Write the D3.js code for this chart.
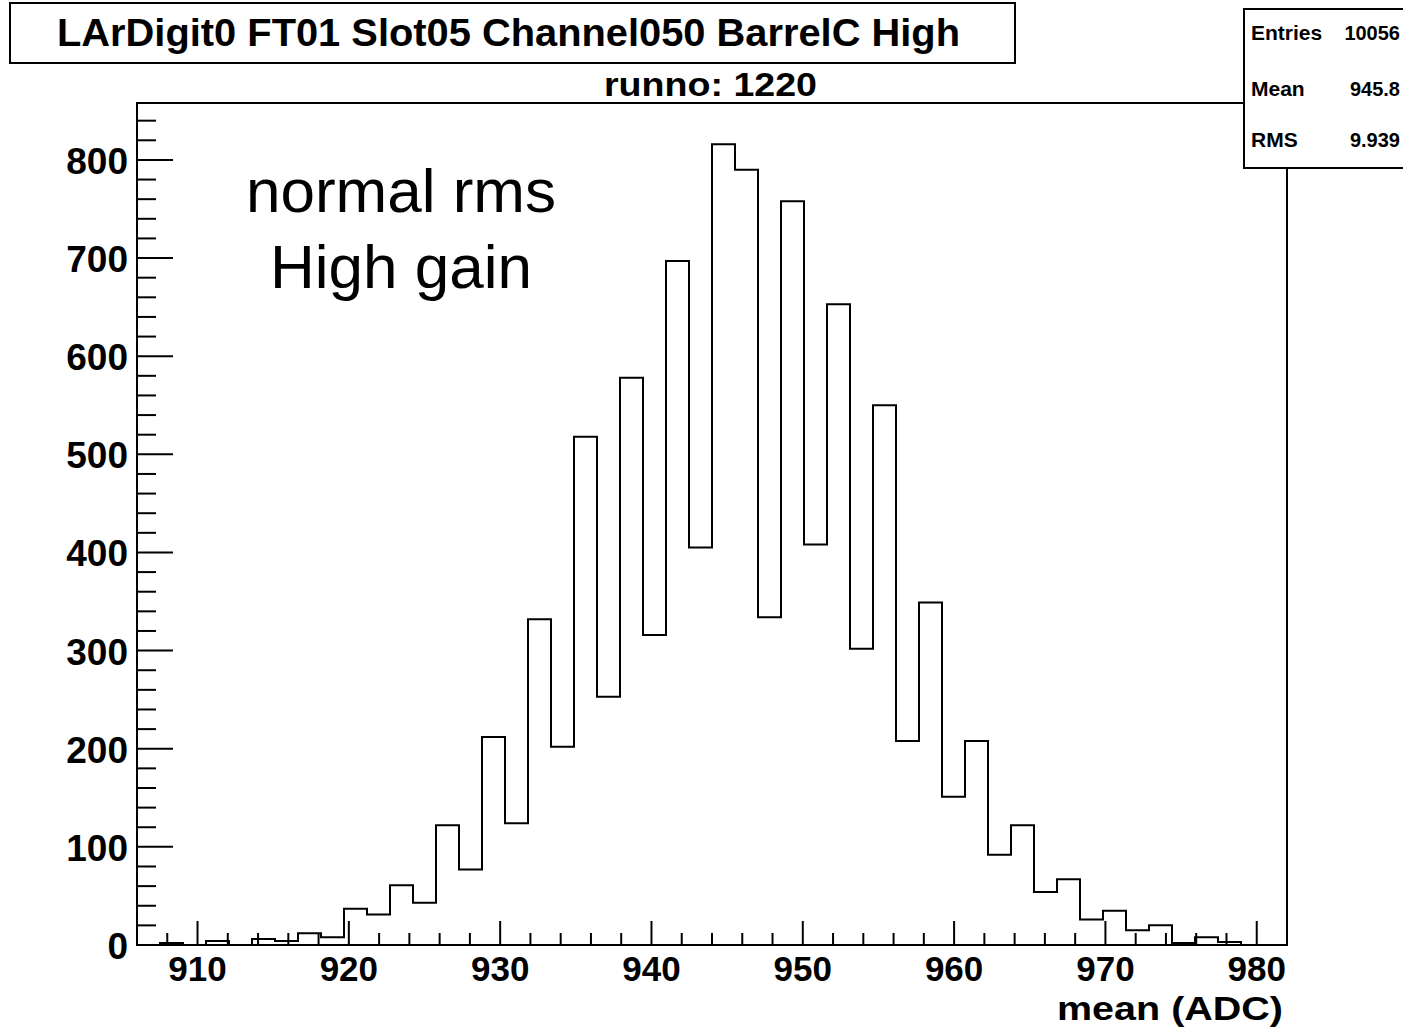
<!DOCTYPE html>
<html>
<head>
<meta charset="utf-8">
<script src="https://d3js.org/d3.v7.min.js"></script>
<style>
body{margin:0;background:#fff;}
text{font-family:"Liberation Sans",Arial,sans-serif;}
</style>
</head>
<body>
<script>
// histogram: 50 bins from 906 to 982
var binLow = 906, binHigh = 982, nBins = 50;
var counts = [0,2,0,4,0,6,4,12,8,37,
			  31,61,43,122,77,212,124,332,202,518,
			  253,578,316,697,405,816,790,334,758,408,
			  653,302,550,208,349,151,208,92,122,54,
			  67,26,35,15,20,2,8,3,0,0];
var xMajor = [910,920,930,940,950,960,970,980];
var yMajor = [0,100,200,300,400,500,600,700,800];
var statNames = ["Entries","Mean","RMS"];
var statValues = ["10056","945.8","9.939"];
var titleText = "LArDigit0 FT01 Slot05 Channel050 BarrelC High";
var subTitle = "runno: 1220";
var noteLines = ["normal rms","High gain"];

const svg_width = 1403,svg_height = 1030;
const frame_left = 137,frame_right = 1287,frame_top = 103,frame_bottom = 945;

var svg = d3.select("body").append("svg")
			.attr("width",svg_width)
			.attr("height",svg_height);

var xScale = d3.scaleLinear().domain([binLow,binHigh]).range([frame_left,frame_right]);
var yScale = d3.scaleLinear().domain([0,858]).range([frame_bottom,frame_top]);

// frame
svg.append("rect")
	.attr("x",frame_left)
	.attr("y",frame_top)
	.attr("width",frame_right-frame_left)
	.attr("height",frame_bottom-frame_top)
	.attr("fill","none")
	.attr("stroke","#000")
	.attr("stroke-width",2);

// ticks on x
var binW = (binHigh-binLow)/nBins;
var xMinor = d3.range(908,binHigh,2).filter(function(d){return xMajor.indexOf(d)<0});
svg.append("g").selectAll("line").data(xMinor).enter().append("line")
	.attr("x1",function(d){return xScale(d)}).attr("x2",function(d){return xScale(d)})
	.attr("y1",frame_bottom).attr("y2",frame_bottom-12)
	.attr("stroke","#000").attr("stroke-width",2);
svg.append("g").selectAll("line").data(xMajor).enter().append("line")
	.attr("x1",function(d){return xScale(d)}).attr("x2",function(d){return xScale(d)})
	.attr("y1",frame_bottom).attr("y2",frame_bottom-24)
	.attr("stroke","#000").attr("stroke-width",2);
svg.append("g").selectAll("text").data(xMajor).enter().append("text")
	.attr("x",function(d){return xScale(d)})
	.attr("y",981)
	.attr("text-anchor","middle")
	.attr("font-size","35px")
	.attr("font-weight","bold")
	.text(function(d){return d});

// ticks on y
var yMinor = d3.range(20,858,20).filter(function(d){return d%100!=0});
svg.append("g").selectAll("line").data(yMinor).enter().append("line")
	.attr("x1",frame_left).attr("x2",frame_left+19)
	.attr("y1",function(d){return yScale(d)}).attr("y2",function(d){return yScale(d)})
	.attr("stroke","#000").attr("stroke-width",2);
svg.append("g").selectAll("line").data(yMajor).enter().append("line")
	.attr("x1",frame_left).attr("x2",frame_left+36)
	.attr("y1",function(d){return yScale(d)}).attr("y2",function(d){return yScale(d)})
	.attr("stroke","#000").attr("stroke-width",2);
svg.append("g").selectAll("text").data(yMajor).enter().append("text")
	.attr("x",128)
	.attr("y",function(d){return yScale(d)+14})
	.attr("text-anchor","end")
	.attr("font-size","37px")
	.attr("font-weight","bold")
	.text(function(d){return d});

// histogram outline
var pts = [];
for(var i = 0;i<counts.length;i++){
	pts.push([binLow+i*binW,counts[i]]);
	pts.push([binLow+(i+1)*binW,counts[i]]);
}
var histLine = d3.line()
				.x(function(d){return xScale(d[0])})
				.y(function(d){return yScale(d[1])});
svg.append("path")
	.attr("d",histLine(pts))
	.attr("fill","none")
	.attr("stroke","#000")
	.attr("stroke-width",2);

// axis title
svg.append("text")
	.attr("x",1057)
	.attr("y",1020)
	.attr("font-size","33px")
	.attr("font-weight","bold")
	.attr("textLength",226)
	.attr("lengthAdjust","spacingAndGlyphs")
	.text("mean (ADC)");

// title box
svg.append("rect")
	.attr("x",10).attr("y",3)
	.attr("width",1005).attr("height",60)
	.attr("fill","#fff").attr("stroke","#000").attr("stroke-width",2);
svg.append("text")
	.attr("x",57).attr("y",46)
	.attr("font-size","38px")
	.attr("font-weight","bold")
	.attr("textLength",903)
	.attr("lengthAdjust","spacingAndGlyphs")
	.text(titleText);
svg.append("text")
	.attr("x",604).attr("y",96)
	.attr("font-size","33px")
	.attr("font-weight","bold")
	.attr("textLength",213)
	.attr("lengthAdjust","spacingAndGlyphs")
	.text(subTitle);

// stats box
svg.append("rect")
	.attr("x",1244).attr("y",9)
	.attr("width",180).attr("height",159)
	.attr("fill","#fff").attr("stroke","#000").attr("stroke-width",2);
var statY = [40,96,147];
for(var k = 0;k<statNames.length;k++){
	svg.append("text")
		.attr("x",1251).attr("y",statY[k])
		.attr("font-size","21px").attr("font-weight","bold")
		.text(statNames[k]);
	svg.append("text")
		.attr("x",1400).attr("y",statY[k])
		.attr("text-anchor","end")
		.attr("font-size","20px").attr("font-weight","bold")
		.text(statValues[k]);
}

// annotation
svg.append("g").selectAll("text").data(noteLines).enter().append("text")
	.attr("x",401)
	.attr("y",function(d,i){return 212+i*76})
	.attr("text-anchor","middle")
	.attr("font-size","62px")
	.text(function(d){return d});
</script>
</body>
</html>
